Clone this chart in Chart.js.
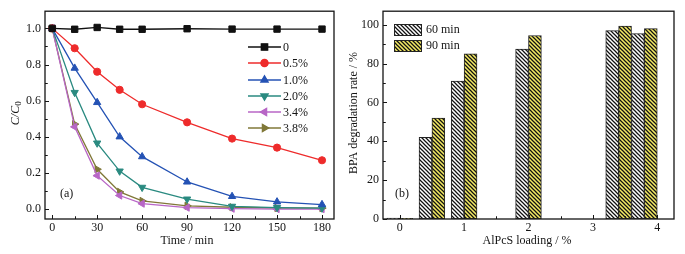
<!DOCTYPE html>
<html>
<head>
<meta charset="utf-8">
<script src="https://cdn.jsdelivr.net/npm/chart.js@4.4.0/dist/chart.umd.min.js"></script>
<style>
  html, body { margin: 0; padding: 0; background: #fff; }
  #wrap { position: relative; width: 685px; height: 254px; }
  #chartA { position: absolute; left: 0; top: 0; }
  #chartB { position: absolute; left: 340px; top: 0; }
</style>
</head>
<body>
<div id="wrap">
  <canvas id="chartA" width="340" height="254"></canvas>
  <canvas id="chartB" width="345" height="254"></canvas>
</div>
<script>
// panel (a): C/C0 vs time
const times = [0, 15, 30, 45, 60, 90, 120, 150, 180];
const seriesNames = ['0', '0.5%', '1.0%', '2.0%', '3.4%', '3.8%'];
const ratio0 = [1.0, 0.995, 1.005, 0.995, 0.995, 0.998, 0.996, 0.996, 0.996];
const ratio05 = [1.0, 0.89, 0.76, 0.66, 0.58, 0.48, 0.39, 0.34, 0.27];
const ratio10 = [1.0, 0.78, 0.59, 0.40, 0.29, 0.15, 0.07, 0.04, 0.025];
const ratio20 = [1.0, 0.645, 0.365, 0.21, 0.12, 0.055, 0.015, 0.008, 0.005];
const ratio34 = [1.0, 0.455, 0.185, 0.075, 0.03, 0.008, 0.002, 0.0, 0.0];
const ratio38 = [1.0, 0.47, 0.22, 0.095, 0.045, 0.018, 0.01, 0.006, 0.005];

// panel (b): degradation rate vs loading
const loadings = [0, 0.5, 1, 2, 3.4, 3.8];
const rate60 = [0.5, 42, 71, 87.5, 97, 95.5];
const rate90 = [0.4, 52, 85, 94.5, 99.3, 98];
const barNames = ['60 min', '90 min'];

const FONT = '"Liberation Serif", "Times New Roman", serif';
const INK = '#151515';

const styles = [
  { color: '#111111', point: 'rect', rot: 0, r: 4.5 },
  { color: '#ee2b2b', point: 'circle', rot: 0, r: 3.6 },
  { color: '#2452b4', point: 'triangle', rot: 0, r: 4.2 },
  { color: '#2a8a80', point: 'triangle', rot: 180, r: 4.2 },
  { color: '#b866c6', point: 'triangle', rot: 270, r: 4.2 },
  { color: '#807838', point: 'triangle', rot: 90, r: 4.2 }
];
const ratios = [ratio0, ratio05, ratio10, ratio20, ratio34, ratio38];

function drawFrame(chart, xMinor, yMinor) {
  const { ctx, chartArea: a, scales: { x, y } } = chart;
  ctx.save();
  ctx.strokeStyle = INK;
  ctx.lineWidth = 1.3;
  ctx.strokeRect(a.left, a.top, a.right - a.left, a.bottom - a.top);
  ctx.lineWidth = 1;
  ctx.beginPath();
  x.ticks.forEach(t => {
    const px = Math.round(x.getPixelForValue(t.value)) + 0.5;
    ctx.moveTo(px, a.bottom); ctx.lineTo(px, a.bottom - 4);
    [t.value - xMinor, t.value + xMinor].forEach(v => {
      if (v > x.min && v < x.max) {
        const p = Math.round(x.getPixelForValue(v)) + 0.5;
        ctx.moveTo(p, a.bottom); ctx.lineTo(p, a.bottom - 2.5);
      }
    });
  });
  y.ticks.forEach(t => {
    const py = Math.round(y.getPixelForValue(t.value)) + 0.5;
    ctx.moveTo(a.left, py); ctx.lineTo(a.left + 4, py);
    [t.value - yMinor, t.value + yMinor].forEach(v => {
      if (v > y.min && v < y.max) {
        const p = Math.round(y.getPixelForValue(v)) + 0.5;
        ctx.moveTo(a.left, p); ctx.lineTo(a.left + 2.5, p);
      }
    });
  });
  ctx.stroke();
  ctx.restore();
}

const extrasA = {
  id: 'extrasA',
  afterDraw(chart) {
    const ctx = chart.ctx;
    drawFrame(chart, 15, 0.1);
    ctx.save();
    ctx.fillStyle = INK;
    ctx.font = '12px ' + FONT;
    ctx.textBaseline = 'middle';
    ctx.textAlign = 'center';
    ctx.fillText('Time / min', 187, 241);
    ctx.textAlign = 'left';
    ctx.fillText('(a)', 60, 194);

    // legend
    const rows = [47, 63, 80, 96, 112, 128];
    seriesNames.forEach((name, i) => {
      const s = styles[i];
      const yy = rows[i];
      ctx.strokeStyle = s.color;
      ctx.lineWidth = 1.3;
      ctx.beginPath(); ctx.moveTo(248, yy); ctx.lineTo(281, yy); ctx.stroke();
      ctx.fillStyle = s.color;
      Chart.helpers.drawPoint(ctx, { pointStyle: s.point, radius: s.r, rotation: s.rot, borderWidth: 1 }, 264.5, yy);
      ctx.fill();
      ctx.fillStyle = INK;
      ctx.fillText(name, 283, yy + 0.5);
    });

    // y title C/C0
    ctx.translate(16, 113);
    ctx.rotate(-Math.PI / 2);
    ctx.font = 'italic 12px ' + FONT;
    ctx.textAlign = 'left';
    const w = ctx.measureText('C/C').width;
    const total = w + 5;
    ctx.fillText('C/C', -total / 2, 0);
    ctx.font = '9px ' + FONT;
    ctx.fillText('0', -total / 2 + w, 3);
    ctx.restore();
  }
};

new Chart(document.getElementById('chartA'), {
  type: 'line',
  data: {
    datasets: seriesNames.map((name, i) => ({
      label: name,
      data: times.map((t, j) => ({ x: t, y: ratios[i][j] })),
      borderColor: styles[i].color,
      backgroundColor: styles[i].color,
      borderWidth: 1.3,
      pointStyle: styles[i].point,
      pointRotation: styles[i].rot,
      pointRadius: styles[i].r,
      pointBorderWidth: 1,
      tension: 0
    }))
  },
  options: {
    responsive: false,
    animation: false,
    layout: { padding: { top: 10, right: 6, left: 0, bottom: 0 } },
    plugins: { legend: { display: false }, tooltip: { enabled: false } },
    scales: {
      x: {
        type: 'linear', min: -4.8, max: 188,
        grid: { display: false, drawTicks: false }, border: { display: false },
        ticks: { stepSize: 30, includeBounds: false, autoSkip: false, maxRotation: 0, padding: 2,
                 color: INK, font: { family: FONT, size: 12 } },
        afterFit: s => { s.height = 35; }
      },
      y: {
        min: -0.055, max: 1.095,
        grid: { display: false, drawTicks: false }, border: { display: false },
        ticks: { stepSize: 0.2, includeBounds: false, padding: 4, color: INK,
                 font: { family: FONT, size: 12 }, callback: v => v.toFixed(1) },
        afterFit: s => { s.width = 45; }
      }
    }
  },
  plugins: [extrasA]
});

// panel (b)
const ctxB = document.getElementById('chartB').getContext('2d');
function hatch(bg) {
  const c = document.createElement('canvas');
  c.width = 4; c.height = 4;
  const g = c.getContext('2d');
  g.fillStyle = bg; g.fillRect(0, 0, 4, 4);
  g.strokeStyle = '#111'; g.lineWidth = 1.25;
  g.beginPath();
  g.moveTo(-1, -1); g.lineTo(5, 5);
  g.moveTo(-1, 3); g.lineTo(1, 5);
  g.moveTo(3, -1); g.lineTo(5, 1);
  g.stroke();
  return ctxB.createPattern(c, 'repeat');
}
const fills = [hatch('#ffffff'), hatch('#f4ea64')];

const extrasB = {
  id: 'extrasB',
  afterDraw(chart) {
    const ctx = chart.ctx;
    drawFrame(chart, 0.5, 10);
    ctx.save();
    ctx.fillStyle = INK;
    ctx.font = '12px ' + FONT;
    ctx.textBaseline = 'middle';
    ctx.textAlign = 'center';
    ctx.fillText('AlPcS loading / %', 187, 241);
    ctx.textAlign = 'left';
    ctx.fillText('(b)', 55, 194);

    const boxes = [24, 40];
    barNames.forEach((name, i) => {
      ctx.fillStyle = fills[i];
      ctx.fillRect(54, boxes[i], 27, 11);
      ctx.strokeStyle = '#222';
      ctx.lineWidth = 1;
      ctx.strokeRect(54.5, boxes[i] + 0.5, 27, 11);
      ctx.fillStyle = INK;
      ctx.fillText(name, 86, boxes[i] + 6);
    });

    ctx.translate(14, 113);
    ctx.rotate(-Math.PI / 2);
    ctx.textAlign = 'center';
    ctx.fillText('BPA degradation rate / %', 0, 0);
    ctx.restore();
  }
};

new Chart(ctxB, {
  type: 'bar',
  data: {
    datasets: [rate60, rate90].map((vals, i) => ({
      label: barNames[i],
      data: loadings.map((l, j) => ({ x: l, y: vals[j] })),
      backgroundColor: fills[i],
      borderColor: '#222',
      borderWidth: 1,
      borderSkipped: false,
      categoryPercentage: 1,
      barPercentage: 1
    }))
  },
  options: {
    responsive: false,
    animation: false,
    layout: { padding: { top: 9, right: 11, left: 0, bottom: 0 } },
    plugins: { legend: { display: false }, tooltip: { enabled: false } },
    scales: {
      x: {
        type: 'linear', min: -0.26, max: 4.26, offset: false,
        grid: { display: false, offset: false, drawTicks: false }, border: { display: false },
        ticks: { stepSize: 1, includeBounds: false, autoSkip: false, maxRotation: 0, padding: 2,
                 color: INK, font: { family: FONT, size: 12 } },
        afterFit: s => { s.height = 35; }
      },
      y: {
        min: 0, max: 107,
        grid: { display: false, drawTicks: false }, border: { display: false },
        ticks: { stepSize: 20, includeBounds: false, padding: 4, color: INK,
                 font: { family: FONT, size: 12 } },
        afterFit: s => { s.width = 43; }
      }
    }
  },
  plugins: [extrasB]
});
</script>
</body>
</html>
